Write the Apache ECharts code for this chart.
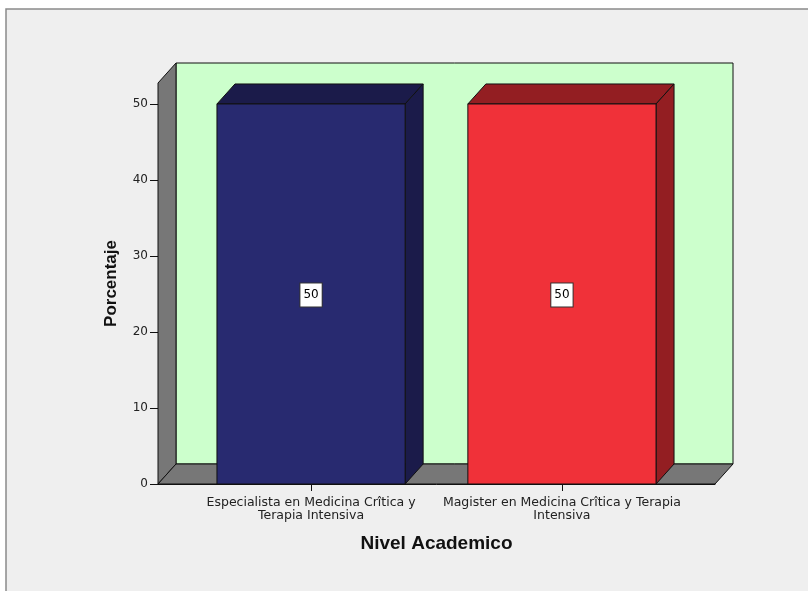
<!DOCTYPE html>
<html>
<head>
<meta charset="utf-8">
<script src="https://cdn.jsdelivr.net/npm/echarts@6/dist/echarts.min.js"></script>
<style>
    html, body { margin: 0; padding: 0; background: #fff; }
    #chart { width: 808px; height: 591px; }
</style>
</head>
<body>
<div id="chart"></div>
<script>
"use strict";

var categories = ['Especialista en Medicina Crîtica y\nTerapia Intensiva', 'Magister en Medicina Crîtica y Terapia\nIntensiva'];
var categoryPos = [1, 2];
var porcentajes = [50, 50];
var yTicks = [0, 10, 20, 30, 40, 50];

var frontColors = ['#282a70', '#f03139'];
var darkColors = ['#1b1b4a', '#931e22'];

// axis extents and fake 3d depth (pixels)
var X_MIN = 0.39, X_MAX = 2.61, Y_MAX = 52.76;
var BAR_W = 0.75;
var DX = 18, DY = -20;
var FONT = '"Liberation Sans", Arial, sans-serif';
var SMALL_FONT = '"DejaVu Sans", sans-serif';

var edge = { stroke: '#111', lineWidth: 1 };

function renderWalls(params, api) {
    var fb = api.coord([X_MIN, 0]);
    var ft = api.coord([X_MIN, Y_MAX]);
    var fr = api.coord([X_MAX, 0]);
    return {
        type: 'group',
        children: [{
            type: 'rect',
            shape: { x: fb[0] + DX, y: ft[1] + DY, width: fr[0] - fb[0], height: fb[1] - ft[1] },
            style: Object.assign({ fill: '#ccffcc' }, edge)
        }, {
            type: 'polygon',
            shape: { points: [fb, ft, [ft[0] + DX, ft[1] + DY], [fb[0] + DX, fb[1] + DY]] },
            style: Object.assign({ fill: '#777777' }, edge)
        }, {
            type: 'polygon',
            shape: { points: [fb, fr, [fr[0] + DX, fr[1] + DY], [fb[0] + DX, fb[1] + DY]] },
            style: Object.assign({ fill: '#777777' }, edge)
        }]
    };
}

function renderBar(params, api) {
    var i = params.dataIndex;
    var x = api.value(0), v = api.value(1);
    var p0 = api.coord([x - BAR_W / 2, 0]);
    var p1 = api.coord([x + BAR_W / 2, v]);
    var x0 = p0[0], yb = p0[1], x1 = p1[0], yt = p1[1];
    var mid = api.coord([x, v / 2]);
    return {
        type: 'group',
        children: [{
            type: 'polygon',
            shape: { points: [[x0, yt], [x1, yt], [x1 + DX, yt + DY], [x0 + DX, yt + DY]] },
            style: Object.assign({ fill: darkColors[i] }, edge)
        }, {
            type: 'polygon',
            shape: { points: [[x1, yt], [x1, yb], [x1 + DX, yb + DY], [x1 + DX, yt + DY]] },
            style: Object.assign({ fill: darkColors[i] }, edge)
        }, {
            type: 'rect',
            shape: { x: x0, y: yt, width: x1 - x0, height: yb - yt },
            style: Object.assign({ fill: frontColors[i] }, edge)
        }, {
            type: 'text',
            x: mid[0],
            y: mid[1] + 1,
            style: {
                text: String(v),
                align: 'center',
                verticalAlign: 'middle',
                fill: '#000',
                font: '12px ' + SMALL_FONT,
                backgroundColor: '#fff',
                borderColor: '#333',
                borderWidth: 1,
                padding: [6, 3, 5, 3]
            }
        }]
    };
}

var chart = echarts.init(document.getElementById('chart'));
chart.setOption({
    backgroundColor: '#fff',
    animation: false,
    graphic: [{
        type: 'rect',
        z: -10,
        shape: { x: 6, y: 9, width: 900, height: 700 },
        style: { fill: '#efefef', stroke: '#8a8a8a', lineWidth: 1.5 }
    }],
    grid: { left: 158, right: 93, top: 83, bottom: 107 },
    xAxis: {
        type: 'value',
        min: X_MIN,
        max: X_MAX,
        name: 'Nivel Academico',
        nameLocation: 'middle',
        nameGap: 50,
        nameTextStyle: { fontFamily: FONT, fontSize: 19, fontWeight: 'bold', color: '#111' },
        splitLine: { show: false },
        axisLine: { lineStyle: { color: '#111' } },
        axisTick: { customValues: categoryPos, length: 7, lineStyle: { color: '#111' } },
        axisLabel: {
            customValues: categoryPos,
            margin: 12,
            fontFamily: SMALL_FONT,
            fontSize: 12.5,
            lineHeight: 13,
            color: '#222',
            formatter: function (v) {
                return categories[categoryPos.indexOf(Math.round(v))];
            }
        }
    },
    yAxis: {
        type: 'value',
        min: 0,
        max: Y_MAX,
        name: 'Porcentaje',
        nameLocation: 'middle',
        nameGap: 38,
        nameTextStyle: { fontFamily: FONT, fontSize: 17, fontWeight: 'bold', color: '#111' },
        splitLine: { show: false },
        axisLine: { show: true, lineStyle: { color: '#111' } },
        axisTick: { customValues: yTicks, length: 8, lineStyle: { color: '#111' } },
        axisLabel: { customValues: yTicks, margin: 10, fontFamily: SMALL_FONT, fontSize: 12, color: '#222' }
    },
    series: [{
        type: 'custom',
        renderItem: renderWalls,
        data: [[X_MIN, 0]],
        silent: true,
        z: 1
    }, {
        type: 'custom',
        renderItem: renderBar,
        data: porcentajes.map(function (v, i) { return [categoryPos[i], v]; }),
        z: 2
    }]
});
</script>
</body>
</html>
